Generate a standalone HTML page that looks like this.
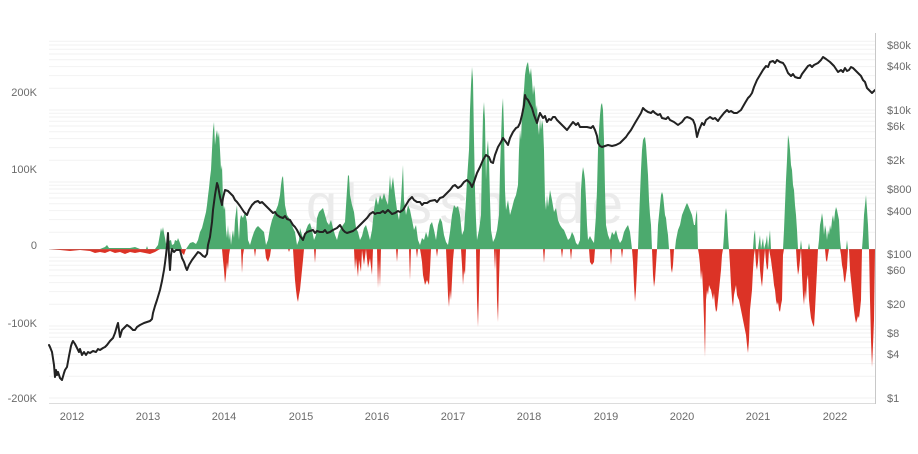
<!DOCTYPE html>
<html>
<head>
<meta charset="utf-8">
<style>
html,body{margin:0;padding:0;background:#fff;}
body{width:918px;height:454px;overflow:hidden;}
svg{display:block;}
.lab{font-family:"Liberation Sans",sans-serif;font-size:11px;fill:#6b6b6b;}
</style>
</head>
<body>
<svg width="918" height="454" viewBox="0 0 918 454" xmlns="http://www.w3.org/2000/svg">
<rect x="0" y="0" width="918" height="454" fill="#fff"/>
<path fill="none" stroke="#f2f2f2" stroke-width="1" d="M49 398H875M49 376.3H875M49 363.6H875M49 354.6H875M49 347.7H875M49 342H875M49 337.2H875M49 333H875M49 329.3H875M49 326H875M49 304.3H875M49 291.6H875M49 282.6H875M49 275.7H875M49 270H875M49 265.2H875M49 261H875M49 257.3H875M49 232.3H875M49 219.6H875M49 210.6H875M49 203.7H875M49 198H875M49 193.2H875M49 189H875M49 185.3H875M49 182H875M49 160.3H875M49 147.6H875M49 138.6H875M49 131.7H875M49 126H875M49 121.2H875M49 117H875M49 113.3H875M49 110H875M49 88.3H875M49 75.6H875M49 66.6H875M49 59.7H875M49 54H875M49 49.2H875M49 45H875M49 41.3H875"/>
<text x="306" y="223" textLength="317" lengthAdjust="spacing" font-family="'Liberation Sans',sans-serif" font-size="56" fill="#ebebeb">glassnode</text>
<polygon fill="#4caa6e" points="49,249 100,249 105,247 107,245 109,248 130,248 135,247 140,249 146,249 147,246 148,249 155,249 158,245 160,234 161,228 162,232 163,227 164,233 165,238 166,244 167,240 168,236 169,241 171,240 172,245 174,244 175,240 177,241 178,238 180,243 182,249 186,249 188,246 190,243 193,242 196,244 198,240 200,232 202,228 204,220 206,212 207,205 208,196 209,188 210,178 211,170 212,150 213,130 214,122 215,145 216,135 217,130 218,138 219,132 220,150 221,170 222,165 223,200 224,210 225,206 226,230 227,238 228,225 229,240 230,232 231,245 232,236 233,230 234,238 235,220 236,212 237,205 238,225 239,240 240,220 241,215 243,218 245,212 247,222 248,240 250,245 252,238 254,232 256,228 258,226 260,228 262,230 264,232 266,245 268,240 270,228 272,220 274,215 276,210 278,205 280,195 281,185 282,178 283,176 284,190 285,205 287,215 289,218 291,222 293,228 295,232 297,245 299,240 300,228 302,235 304,240 306,230 308,225 310,223 312,230 314,240 316,235 317,218 319,212 321,210 323,208 325,215 327,222 329,225 331,220 333,228 335,235 337,240 339,232 341,228 343,225 345,222 347,190 348,175 349,176 350,195 352,205 354,212 356,228 358,232 360,240 362,236 364,228 366,225 368,232 370,240 372,230 374,210 376,197 378,205 380,195 382,200 384,193 386,200 388,205 390,175 391,190 393,177 395,195 397,210 399,220 401,200 403,165 404,200 406,215 408,205 410,210 412,220 414,230 416,225 418,240 420,245 422,238 424,240 426,232 428,238 430,225 432,222 434,230 436,240 438,225 440,218 442,222 444,235 446,242 448,245 450,232 452,215 454,205 456,208 458,206 460,215 462,235 464,230 466,200 467,180 468,165 469,150 470,110 471,85 472,67 473,80 474,140 475,190 476,220 477,240 479,230 481,215 482,160 483,115 484,102 485,120 486,180 487,150 488,140 489,160 490,200 491,230 493,242 495,238 497,230 499,215 500,170 501,140 502,110 503,98 504,130 505,190 506,210 508,200 510,215 512,208 514,200 516,195 518,185 519,150 520,130 521,140 522,115 523,100 524,90 525,75 526,68 527,64 528,62 529,70 530,75 531,68 532,80 533,95 534,85 535,93 536,110 537,105 538,125 539,135 540,118 541,130 542,120 543,125 544,150 545,200 546,210 547,195 548,207 550,190 552,200 554,212 556,208 558,220 560,225 562,228 564,230 566,235 568,240 570,238 572,232 574,236 576,243 578,245 580,240 581,190 582,175 583,167 584,172 585,180 586,200 587,225 588,240 590,236 592,240 594,243 596,215 597,190 598,150 599,130 600,115 601,105 602,103 603,110 604,140 605,190 606,225 608,235 610,240 612,232 614,235 616,230 618,238 620,243 622,240 624,232 626,228 628,225 630,232 632,249 638,249 639,220 640,195 641,170 642,150 643,140 644,138 645,137 646,145 647,160 648,175 649,200 650,215 651,225 652,249 657,249 658,225 659,215 660,205 661,195 662,192 663,195 664,205 665,215 666,218 667,228 668,235 669,249 675,249 676,240 678,230 680,225 682,215 684,210 686,205 687,203 688,205 690,210 692,215 694,225 695,225 696,215 697,210 698,249 723,249 724,235 725,215 726,208 727,215 728,235 729,249 753,249 754,235 755,230 756,249 758,249 759,242 760,235 761,249 763,238 764,249 766,242 767,235 768,249 770,230 771,249 783,249 784,230 785,205 786,180 787,160 788,135 789,140 790,150 791,165 792,170 793,185 794,190 795,205 796,215 797,230 798,249 800,249 801,240 802,249 808,249 809,243 810,249 818,249 819,240 820,225 821,220 822,213 823,220 824,235 825,225 826,230 827,240 828,230 829,235 830,225 831,230 832,220 833,215 834,222 835,212 836,207 837,210 838,215 839,220 840,240 841,249 846,249 847,240 848,249 862,249 863,235 864,215 865,205 866,195 867,210 868,225 869,249 873,249"/>
<polygon fill="#dc3326" points="49,249 60,250 70,251 80,250 90,251 95,253 100,252 105,253 110,251 115,253 120,252 125,254 130,252 135,253 140,252 145,253 150,254 155,252 160,249 180,249 182,253 184,255 186,249 222,249 223,260 224,270 225,283 226,275 227,262 228,270 229,255 230,249 241,249 242,273 243,255 244,249 254,249 255,257 256,249 265,249 266,258 268,262 270,256 271,249 288,249 289,252 290,249 293,249 294,265 295,280 296,290 297,298 298,302 299,295 300,290 301,280 302,270 303,260 304,249 314,249 315,263 316,249 354,249 355,270 356,258 358,277 359,260 361,272 362,250 364,265 366,249 368,268 370,258 372,275 373,249 377,249 378,288 379,260 380,287 381,249 396,249 397,262 398,249 409,249 410,280 411,249 416,249 417,258 418,249 420,249 421,255 422,262 423,275 425,285 427,280 429,285 430,270 431,249 436,249 437,257 438,249 446,249 447,270 448,295 449,307 450,290 451,300 452,280 453,260 454,249 461,249 462,265 463,285 464,270 465,275 466,249 476,249 477,300 478,327 479,290 480,249 494,249 495,270 496,249 497,300 498,322 499,280 500,249 543,249 544,263 545,249 561,249 562,258 563,249 570,249 571,260 572,249 589,249 590,262 592,265 594,262 595,249 610,249 611,265 612,249 621,249 622,258 623,249 632,249 633,262 634,285 635,302 636,290 637,270 638,249 652,249 653,275 654,287 655,280 656,265 657,249 670,249 671,268 672,273 673,265 674,249 698,249 699,255 700,265 701,280 702,270 703,290 704,320 705,357 706,300 707,290 708,295 709,285 710,288 711,290 712,295 713,300 714,293 715,305 716,312 717,310 718,300 719,290 720,280 721,270 722,255 723,249 729,249 730,265 731,285 732,300 733,307 734,295 735,290 736,285 737,295 738,298 739,300 740,305 741,310 742,315 743,320 744,325 745,330 746,335 747,345 748,353 749,340 750,310 751,300 752,290 753,270 754,255 755,249 756,265 757,270 758,262 759,249 760,270 761,280 762,287 763,275 764,260 765,249 766,262 767,270 768,268 769,249 771,260 772,268 773,275 774,285 775,290 776,300 777,305 778,302 779,310 780,312 781,305 782,300 783,255 784,249 796,249 797,265 798,275 799,270 800,260 801,249 802,275 803,295 804,305 805,290 806,300 807,280 808,275 809,300 810,310 811,318 812,322 813,325 814,327 815,310 816,290 817,270 818,249 825,249 826,260 827,262 828,255 829,249 840,249 841,255 842,265 843,270 844,280 845,283 846,275 847,268 848,249 849,249 850,270 851,280 852,290 853,300 854,310 855,318 856,323 857,320 858,316 859,318 860,310 861,300 862,249 869,249 870,300 871,340 872,367 873,345 874,320 875,249"/>
<line x1="49" x2="875" y1="249.5" y2="249.5" stroke="#999" stroke-width="0.6" opacity="0.5"/>
<polyline fill="none" stroke="#222" stroke-width="2" stroke-linejoin="round" stroke-linecap="round" points="49,345 50,347 52,352 54,365 55,377 56,370 57,375 58,372 60,378 62,380 64,373 65,370 67,367 69,356 71,346 72,343 73,341 75,344 77,348 79,352 80,349 82,355 84,352 86,355 88,352 90,353 93,351 96,352 98,349 100,350 103,348 105,347 107,345 110,341 113,338 115,333 117,326 118,323 119,330 120,337 122,330 124,328 127,325 130,327 133,330 135,330 137,327 140,325 144,323 147,322 150,321 152,319 153,313 155,306 157,300 160,290 162,281 164,270 165,263 166,255 167,246 168,233 169,255 170,270 171,255 172,249 174,252 176,250 178,250 180,250 182,258 184,262 186,268 187,270 189,265 192,260 195,256 198,252 200,253 203,256 205,257 207,254 208,245 210,237 212,222 213,210 215,195 217,183 218,186 220,197 222,205 223,198 225,190 228,191 230,193 233,196 235,200 237,202 240,206 242,209 244,212 246,214 247,215 249,210 252,205 254,203 255,202 258,201 260,203 262,202 265,205 267,207 270,210 273,213 275,212 277,215 280,217 283,218 285,216 287,219 290,220 293,225 295,227 297,230 300,236 303,240 305,234 307,232 310,231 313,230 315,233 317,231 320,232 323,232 325,230 327,233 330,232 333,230 337,228 340,225 343,230 345,232 347,233 350,232 353,231 357,228 360,225 363,222 365,220 367,218 370,214 373,212 375,214 377,213 380,213 383,211 385,213 388,210 390,212 392,214 395,213 398,211 400,212 403,210 406,205 409,200 412,197 414,200 417,202 420,202 422,205 424,203 427,203 430,201 435,200 437,202 440,198 443,197 445,195 447,193 450,190 453,186 455,185 458,188 461,186 464,182 467,180 470,183 472,187 474,182 477,173 480,167 483,160 486,155 489,157 491,162 493,163 495,155 498,147 501,142 503,138 506,142 508,145 510,138 513,132 516,128 518,127 520,123 522,115 524,105 525,95 526,98 528,100 530,104 532,108 534,115 537,123 539,116 540,113 543,118 545,116 547,122 549,119 551,120 553,117 555,117 557,120 559,122 562,125 565,128 567,130 570,126 573,122 576,125 578,123 580,127 584,127 587,127 591,128 593,126 595,130 597,136 598,143 600,146 602,147 605,146 608,145 612,146 616,145 620,143 623,140 626,137 628,134 631,130 635,123 638,118 641,113 643,108 645,110 648,112 651,113 653,111 655,113 658,115 660,114 662,118 666,119 668,117 670,120 674,122 678,125 682,122 685,118 687,117 690,118 693,120 695,125 697,137 699,130 702,123 704,125 706,120 710,117 713,119 715,118 718,121 720,118 724,113 727,110 729,112 731,111 734,113 737,113 741,110 745,103 748,98 750,96 752,93 754,87 757,80 760,75 763,70 766,66 768,67 770,62 773,61 775,63 777,60 780,62 783,63 785,66 788,73 791,76 793,74 795,77 798,78 800,78 802,74 805,70 808,66 810,65 812,67 814,65 818,63 821,60 823,57 826,59 830,62 832,64 834,66 836,69 838,72 841,70 843,72 845,68 847,71 849,70 851,67 853,68 856,71 858,73 861,76 863,80 865,82 867,88 869,90 872,93 874,91 875,90"/>
<line x1="49" x2="875" y1="403.5" y2="403.5" stroke="#dcdcdc" stroke-width="1"/>
<line x1="875.5" x2="875.5" y1="33" y2="404" stroke="#c8c8c8" stroke-width="1"/>
<g class="lab" text-anchor="end">
<text x="37" y="96">200K</text>
<text x="37" y="173">100K</text>
<text x="37" y="249">0</text>
<text x="37" y="327">-100K</text>
<text x="37" y="402">-200K</text>
</g>
<g class="lab" text-anchor="start">
<text x="887" y="49">$80k</text>
<text x="887" y="70">$40k</text>
<text x="887" y="114">$10k</text>
<text x="887" y="130">$6k</text>
<text x="887" y="164">$2k</text>
<text x="887" y="193">$800</text>
<text x="887" y="215">$400</text>
<text x="887" y="258">$100</text>
<text x="887" y="274">$60</text>
<text x="887" y="308">$20</text>
<text x="887" y="337">$8</text>
<text x="887" y="358">$4</text>
<text x="887" y="402">$1</text>
</g>
<g class="lab" text-anchor="middle">
<text x="72" y="420">2012</text>
<text x="148" y="420">2013</text>
<text x="224" y="420">2014</text>
<text x="301" y="420">2015</text>
<text x="377" y="420">2016</text>
<text x="453" y="420">2017</text>
<text x="529" y="420">2018</text>
<text x="606" y="420">2019</text>
<text x="682" y="420">2020</text>
<text x="758" y="420">2021</text>
<text x="835" y="420">2022</text>
</g>
</svg>
</body>
</html>
